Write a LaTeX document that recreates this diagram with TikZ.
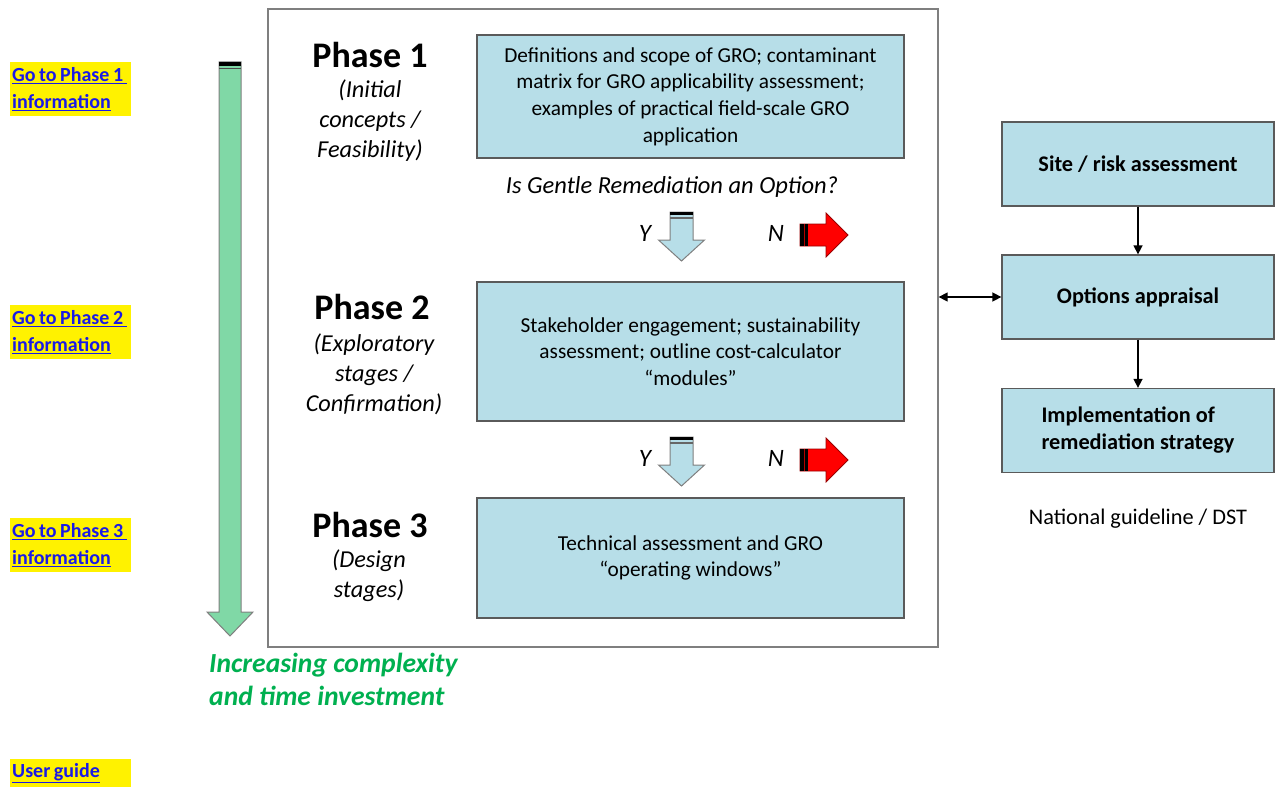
\documentclass[tikz,border=0pt]{standalone}
\usepackage{fontspec}
\setmainfont{Carlito}
\usetikzlibrary{arrows.meta}

\definecolor{boxblue}{HTML}{B7DEE8}
\definecolor{boxline}{HTML}{5A5A5A}
\definecolor{framegray}{HTML}{7F7F7F}
\definecolor{arrowgreen}{HTML}{80D8A6}
\definecolor{textgreen}{HTML}{00B050}
\definecolor{linkblue}{HTML}{1A1AE6}

% tight word gap for the link labels
\newcommand{\lgap}{\kern3.5pt}

\begin{document}
\begin{tikzpicture}[x=1pt,y=-1pt,
    infobox/.style={draw=boxline, fill=boxblue, line width=1.3pt, minimum width=427pt,
        align=center, inner sep=0pt, font=\fontsize{21.3}{26.6}\selectfont},
    sidebox/.style={draw=boxline, fill=boxblue, line width=1.3pt, minimum width=272pt,
        minimum height=84pt, align=left, inner sep=0pt, font=\bfseries\fontsize{22.3}{27}\selectfont},
    phase/.style={font=\bfseries\fontsize{36}{40}\selectfont, inner sep=0pt},
    phasenote/.style={font=\itshape\fontsize{24.3}{30}\selectfont, align=center, inner sep=0pt},
    yn/.style={font=\itshape\fontsize{25}{26}\selectfont, inner sep=0pt},
    link/.style={fill=yellow, text=linkblue, anchor=north west, text width=117pt, minimum height=54pt,
        inner xsep=2pt, inner ysep=0pt, align=left, font=\bfseries\fontsize{20}{27}\selectfont},
    flow/.style={line width=1.5pt, -{Triangle[length=9pt,width=9pt]}}
]
  \useasboundingbox (0,0) rectangle (1279,789);

  % Links on the left
  \foreach \p/\yy in {1/62, 2/305, 3/518} {
    \node[link] (go\p) at (10,\yy) {\underline{Go\lgap to\lgap Phase\lgap\p\lgap}\\\underline{information}};
  }
  \node[link, minimum height=28pt] (guide) at (10,759) {\underline{User\lgap guide}};

  % Green arrow
  \draw[framegray, fill=arrowgreen, line width=1pt] (219,62) -- (241,62) -- (241,612) -- (253,612)
      -- (230,636) -- (207,612) -- (219,612) -- cycle;
  \fill[black] (219,62) rectangle (241,66);
  \fill[black!70] (219,68) rectangle (241,69.5);
  \node[anchor=north west, align=left, text=textgreen, inner sep=0pt,
      font=\bfseries\itshape\fontsize{27.6}{33}\selectfont] (more) at (209,653)
      {Increasing complexity\\and time investment};

  % Frame round the phases
  \node[draw=framegray, line width=1.3pt, minimum width=670pt, minimum height=638pt] (frame) at (603,328) {};

  % Phases
  \node[phase] (ph1) at (370,55) {Phase 1};
  \node[phasenote] (ph1n) at (370,121) {(Initial\\concepts /\\Feasibility)};
  \node[phase] (ph2) at (372,307) {Phase 2};
  \node[phasenote] (ph2n) at (374,374) {(Exploratory\\stages /\\Confirmation)};
  \node[phase] (ph3) at (370,525) {Phase 3};
  \node[phasenote] (ph3n) at (369,576) {(Design\\stages)};

  \node[infobox, minimum height=123pt] (box1) at (690.5,96.5)
      {Definitions and scope of GRO; contaminant\\matrix for GRO applicability assessment;\\examples of practical field-scale GRO\\application};
  \node[infobox, minimum height=139pt] (box2) at (690.5,351.5)
      {Stakeholder engagement; sustainability\\assessment; outline cost-calculator\\“modules”};
  \node[infobox, minimum height=120pt] (box3) at (690.5,558)
      {Technical assessment and GRO\\“operating windows”};

  \node[font=\itshape\fontsize{24.5}{26}\selectfont, inner sep=0pt] (ask) at (672,187)
      {Is Gentle Remediation an Option?};

  % Y / N arrows
  \foreach \dy [count=\k] in {0,225} {
    \node[yn] (yes\k) at (645,233+\dy) {Y};
    \node[yn] (no\k) at (776,233+\dy) {N};
    \draw[framegray, fill=boxblue, line width=1pt] (670,212+\dy) -- (693,212+\dy) -- (693,240+\dy)
        -- (704.5,240+\dy) -- (681.5,261+\dy) -- (658.5,240+\dy) -- (670,240+\dy) -- cycle;
    \fill[black] (670,212+\dy) rectangle (693,215+\dy);
    \fill[black!60] (670,217+\dy) rectangle (693,219+\dy);
    \draw[red!60!black, fill=red, line width=0.8pt] (800,224+\dy) -- (826,224+\dy) -- (826,213+\dy)
        -- (848,235+\dy) -- (826,257+\dy) -- (826,246+\dy) -- (800,246+\dy) -- cycle;
    \fill[black] (800,224+\dy) rectangle (808,246+\dy);
    \fill[red!70!black] (803.5,224+\dy) rectangle (805,246+\dy);
  }

  % National guideline side
  \node[sidebox] (site) at (1138,164) {Site / risk assessment};
  \node[sidebox] (opt) at (1138,297) {Options appraisal};
  \node[sidebox] (impl) at (1138,430.5) {Implementation of\\remediation strategy};
  \node[font=\fontsize{22.3}{24}\selectfont, inner sep=0pt] (dst) at (1138,519) {National guideline / DST};

  \draw[flow] (site) -- (opt);
  \draw[flow] (opt) -- (impl);
  \draw[line width=1.5pt, {Triangle[length=9pt,width=9pt]}-{Triangle[length=9pt,width=9pt]}]
      (frame.east |- opt.west) -- (opt.west);
\end{tikzpicture}
\end{document}
